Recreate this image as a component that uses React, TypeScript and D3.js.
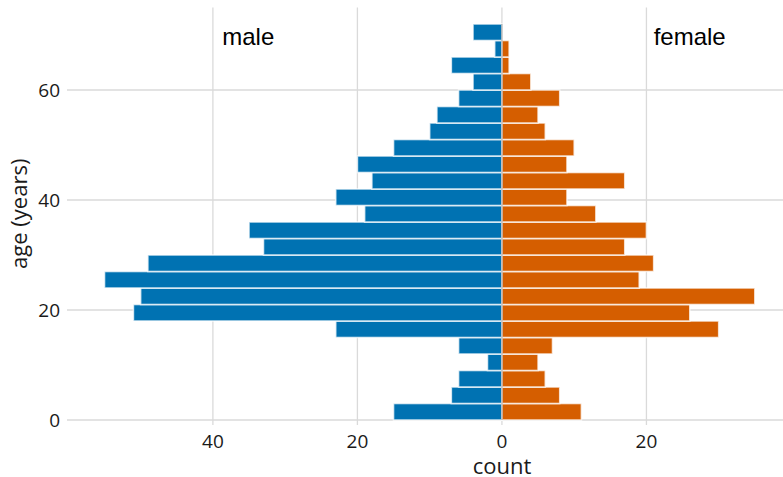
import React from 'react';
import * as d3 from 'd3';

// age bins (lower bound, 3-year bins)
const ageBins = [0, 3, 6, 9, 12, 15, 18, 21, 24, 27, 30, 33, 36, 39, 42, 45, 48, 51, 54, 57, 60, 63, 66, 69];
const maleCounts = [15, 7, 6, 2, 6, 23, 51, 50, 55, 49, 33, 35, 19, 23, 18, 20, 15, 10, 9, 6, 4, 7, 1, 4];
const femaleCounts = [11, 8, 6, 5, 7, 30, 26, 35, 19, 21, 17, 20, 13, 9, 17, 9, 10, 6, 5, 8, 4, 1, 1, 0];
const xTicks = [-40, -20, 0, 20];
const yTicks = [0, 20, 40, 60];
const binWidth = 3;

const W = 783;
const H = 477;
const panel = { left: 72, right: 783, top: 7.5, bottom: 420 };

const tickFont = '"Open Sans", sans-serif';
const labelFont = '"Liberation Sans", Arial, sans-serif';

export default function App() {
  const x = d3.scaleLinear().domain([-59.5, 38.9]).range([panel.left, panel.right]);
  const y = d3.scaleLinear().domain([0, 75]).range([panel.bottom, panel.top]);

  const gridColor = '#dadada';

  return (
    <svg
      width={W}
      height={H}
      style={{ position: 'absolute', left: 0, top: 0, display: 'block', background: '#fff' }}
    >
      {/* grid */}
      <g>
        {xTicks.map(t => (
          <line key={'gx' + t} x1={x(t)} x2={x(t)} y1={panel.top} y2={panel.bottom + 5}
            stroke={gridColor} strokeWidth={1.3} />
        ))}
        {yTicks.map(t => (
          <line key={'gy' + t} x1={panel.left - 5} x2={panel.right} y1={y(t)} y2={y(t)}
            stroke={gridColor} strokeWidth={1.3} />
        ))}
      </g>

      {/* bars */}
      <g>
        {ageBins.map((a, i) => (
          <rect key={'m' + a}
            x={x(-maleCounts[i])} width={x(0) - x(-maleCounts[i])}
            y={y(a + binWidth)} height={y(a) - y(a + binWidth)}
            fill="#0072B2" stroke="#ffffff" strokeOpacity={0.75} strokeWidth={1.6} />
        ))}
        {ageBins.map((a, i) => femaleCounts[i] > 0 && (
          <rect key={'f' + a}
            x={x(0)} width={x(femaleCounts[i]) - x(0)}
            y={y(a + binWidth)} height={y(a) - y(a + binWidth)}
            fill="#D55E00" stroke="#ffffff" strokeOpacity={0.75} strokeWidth={1.6} />
        ))}
        <line x1={x(0)} x2={x(0)} y1={y(ageBins[ageBins.length - 1] + binWidth)} y2={panel.bottom}
          stroke="#a0a0a0" strokeWidth={1} />
      </g>

      {/* tick labels */}
      <g fontFamily={tickFont} fontSize={19} fill="#1a1a1a">
        {xTicks.map(t => (
          <text key={'tx' + t} x={x(t)} y={448} textAnchor="middle">{Math.abs(t)}</text>
        ))}
        {yTicks.map(t => (
          <text key={'ty' + t} x={60} y={y(t)} dy="0.35em" textAnchor="end">{t}</text>
        ))}
      </g>

      {/* axis titles */}
      <text x={502} y={474} textAnchor="middle" fontFamily={tickFont} fontSize={22} fill="#1a1a1a">count</text>
      <text transform={`translate(27,${(panel.top + panel.bottom) / 2}) rotate(-90)`} textAnchor="middle"
        fontFamily={tickFont} fontSize={22} fill="#1a1a1a">age (years)</text>

      {/* group labels */}
      <text x={x(-38.7)} y={45} fontFamily={labelFont} fontSize={24} fill="#000">male</text>
      <text x={x(21)} y={45} fontFamily={labelFont} fontSize={24} fill="#000">female</text>
    </svg>
  );
}
